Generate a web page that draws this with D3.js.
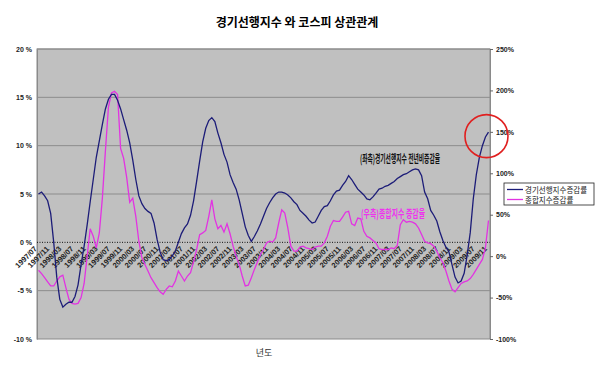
<!DOCTYPE html>
<html>
<meta charset="utf-8">
<script src="https://d3js.org/d3.v7.js"></script>
<style>
  body { margin: 0; background: #fff; }
  text { font-family: "Liberation Sans", Arial, sans-serif; }
  .kr { font-family: "Noto Sans CJK KR", sans-serif; }
</style>
<body>
<div id="chart"></div>
<script>
// months 1997/07 .. 2009/11
var months = d3.timeMonth.range(new Date(1997, 6, 1), new Date(2009, 11, 1)).map(d3.timeFormat("%Y/%m"));

// 경기선행지수 증감률 (left axis, %)
var cliChange = [
  5.0, 5.2, 4.8, 4.3, 3.0, 0.0, -3.6, -5.9, -6.7, -6.4,
  -6.2, -6.2, -5.6, -4.4, -2.3, -0.4, 1.8, 4.2, 6.5, 8.8,
  10.5, 12.2, 13.8, 14.8, 15.3, 15.3, 14.7, 13.8, 12.7, 11.6,
  10.3, 8.5, 6.5, 4.8, 4.0, 3.5, 3.2, 3.0, 2.0, 0.3,
  -1.0, -1.8, -1.9, -1.8, -1.4, -0.9, 0.0, 0.9, 1.5, 1.9,
  2.8, 4.3, 6.3, 8.4, 10.4, 11.8, 12.6, 12.9, 12.5, 11.3,
  10.3, 9.1, 8.3, 7.0, 6.2, 5.5, 4.4, 3.0, 1.6, 0.7,
  0.1, 0.6, 1.2, 1.9, 2.7, 3.5, 4.1, 4.6, 5.0, 5.2,
  5.2, 5.1, 4.9, 4.6, 4.2, 3.9, 3.3, 3.0, 2.7, 2.3,
  2.0, 2.1, 2.7, 3.3, 3.7, 3.8, 4.3, 4.9, 5.3, 5.4,
  5.9, 6.3, 6.9, 6.5, 6.0, 5.5, 5.2, 4.9, 4.5, 4.4,
  4.7, 5.1, 5.5, 5.6, 5.8, 5.9, 6.1, 6.3, 6.6, 6.8,
  7.0, 7.1, 7.3, 7.5, 7.6, 7.5, 6.9, 5.2, 4.5, 3.3,
  2.8, 2.2, 1.1, 0.2, -0.5, -1.0, -2.3, -3.6, -4.2, -4.0,
  -3.2, -1.3, 1.0, 4.5, 7.0, 8.8, 10.0, 10.9, 11.4
];

// 종합지수 증감률 (right axis, %)
var kospiChange = [
  -17, -21, -26, -31, -36, -36, -30, -25, -23, -38,
  -52, -57, -58, -57, -50, -33, 0, 33, 24, 10,
  28, 70, 127, 180, 197, 199, 195, 130, 118, 95,
  65, 70, 48, 18, -2, -10, -18, -26, -32, -38,
  -43, -46, -40, -36, -37, -30, -18, -24, -30, -24,
  -20, -7, 8, 26, 28, 31, 48, 68, 45, 33,
  37, 29, 39, 27, 12, 0, -10, -24, -36, -35,
  -26, -16, -7, 2, 8, 16, 18, 17, 22, 40,
  56, 52, 34, 12, 6, 6, 11, 12, 10, 9,
  8, 11, 12, 12, 16, 24, 36, 43, 42, 42,
  47, 53, 54, 39, 37, 46, 45, 30, 24, 22,
  19, 16, 9, 8, 8, 8, 10, 9, 13, 38,
  44, 41, 42, 41, 39, 34, 26, 18, 16, 15,
  12, 6, -2, -8, -18, -30, -40, -43, -38, -33,
  -31, -30, -27, -22, -16, -10, -4, 10, 43
];

var leftTicks = [-10, -5, 0, 5, 10, 15, 20];
var rightTicks = [-100, -50, 0, 50, 100, 150, 200, 250];
var seriesNames = ["경기선행지수증감률", "종합지수증감률"];

var width = 600, height = 368;
var plot = {left: 37, right: 490, top: 49, bottom: 339};

var svg = d3.select("#chart").append("svg")
  .attr("width", width)
  .attr("height", height);

var x = d3.scaleBand().domain(months).range([plot.left, plot.right]);
var yL = d3.scaleLinear().domain([-10, 20]).range([plot.bottom, plot.top]);
var yR = d3.scaleLinear().domain([-100, 250]).range([plot.bottom, plot.top]);
var cx = function(d) { return x(d) + x.bandwidth() / 2; };

// title
svg.append("text")
  .attr("class", "kr")
  .attr("x", 297).attr("y", 27)
  .attr("text-anchor", "middle")
  .style("font-size", "12px").style("font-weight", "bold")
  .text("경기선행지수 와 코스피 상관관계");

// plot background
svg.append("rect")
  .attr("x", plot.left).attr("y", plot.top)
  .attr("width", plot.right - plot.left).attr("height", plot.bottom - plot.top)
  .attr("fill", "#c0c0c0").attr("stroke", "#8a8a8a");

// gridlines
svg.append("g").selectAll("line")
  .data(leftTicks.filter(function(t) { return t !== 0 && t !== -10; }))
  .enter().append("line")
  .attr("x1", plot.left).attr("x2", plot.right)
  .attr("y1", function(d) { return yL(d); }).attr("y2", function(d) { return yL(d); })
  .attr("stroke", "#8c8c8c").attr("stroke-width", 1);

// left axis
var axL = svg.append("g")
  .attr("transform", "translate(" + plot.left + ",0)")
  .call(d3.axisLeft(yL).tickValues(leftTicks).tickSize(0).tickPadding(5)
    .tickFormat(function(d) { return d + " %"; }));
axL.select(".domain").attr("stroke", "#8a8a8a");
axL.selectAll("text").style("font-size", "7px").style("font-weight", "bold").attr("fill", "#222");

// right axis
var axR = svg.append("g")
  .attr("transform", "translate(" + plot.right + ",0)")
  .call(d3.axisRight(yR).tickValues(rightTicks).tickSize(3).tickPadding(3)
    .tickFormat(function(d) { return d + "%"; }));
axR.select(".domain").attr("stroke", "#8a8a8a");
axR.selectAll("line").attr("stroke", "#666");
axR.selectAll("text").style("font-size", "7px").style("font-weight", "bold").attr("fill", "#222");

// zero line (category axis crossing)
svg.append("line")
  .attr("x1", plot.left).attr("x2", plot.right)
  .attr("y1", yL(0)).attr("y2", yL(0))
  .attr("stroke", "#111").attr("stroke-width", 1)
  .attr("stroke-dasharray", "1,1.5");

// category labels every 4 months
svg.append("g").selectAll("text")
  .data(months.filter(function(d, i) { return i % 4 === 0; }))
  .enter().append("text")
  .attr("transform", function(d) { return "translate(" + (cx(d) - 1) + "," + (yL(0) + 7) + ") rotate(-45)"; })
  .attr("text-anchor", "end")
  .style("font-size", "7.5px").style("font-weight", "bold").attr("fill", "#222")
  .text(function(d) { return d; });

// lines
var lineL = d3.line()
  .x(function(d, i) { return cx(months[i]); })
  .y(function(d) { return yL(d); });
var lineR = d3.line()
  .x(function(d, i) { return cx(months[i]); })
  .y(function(d) { return yR(d); });

svg.append("path").datum(kospiChange)
  .attr("d", lineR).attr("fill", "none")
  .attr("stroke", "#e233e2").attr("stroke-width", 1.3);

svg.append("path").datum(cliChange)
  .attr("d", lineL).attr("fill", "none")
  .attr("stroke", "#1c1c78").attr("stroke-width", 1.3);

// annotations
svg.append("text").attr("class", "kr")
  .attr("x", 360).attr("y", 163)
  .attr("textLength", 80).attr("lengthAdjust", "spacingAndGlyphs")
  .style("font-size", "11px").style("font-weight", "bold").attr("fill", "#111")
  .text("(좌측)경기선행지수 전년비증감율");

svg.append("text").attr("class", "kr")
  .attr("x", 361).attr("y", 218)
  .attr("textLength", 64).attr("lengthAdjust", "spacingAndGlyphs")
  .style("font-size", "11px").style("font-weight", "bold").attr("fill", "#ee33ee")
  .text("(우측)종합지수 증감율");

// red circle highlight
svg.append("circle")
  .attr("cx", cx(months[months.length - 1]) - 2)
  .attr("cy", yL(cliChange[cliChange.length - 1]) + 4)
  .attr("r", 21.5)
  .attr("fill", "none").attr("stroke", "#e02020").attr("stroke-width", 1.6);

// x axis title
svg.append("text").attr("class", "kr")
  .attr("x", 264).attr("y", 356)
  .attr("text-anchor", "middle")
  .style("font-size", "9px").attr("fill", "#333")
  .text("년도");

// legend
var lg = svg.append("g").attr("transform", "translate(504,183)");
lg.append("rect").attr("width", 90).attr("height", 22)
  .attr("fill", "#fff").attr("stroke", "#222").attr("stroke-width", 0.8);
var colors = ["#1c1c78", "#e233e2"];
seriesNames.forEach(function(name, i) {
  lg.append("line")
    .attr("x1", 3).attr("x2", 19)
    .attr("y1", 6.5 + i * 10).attr("y2", 6.5 + i * 10)
    .attr("stroke", colors[i]).attr("stroke-width", 1.3);
  lg.append("text").attr("class", "kr")
    .attr("x", 21).attr("y", 9.5 + i * 10)
    .style("font-size", "7.5px").attr("fill", "#222")
    .text(name);
});
</script>
</body>
</html>
